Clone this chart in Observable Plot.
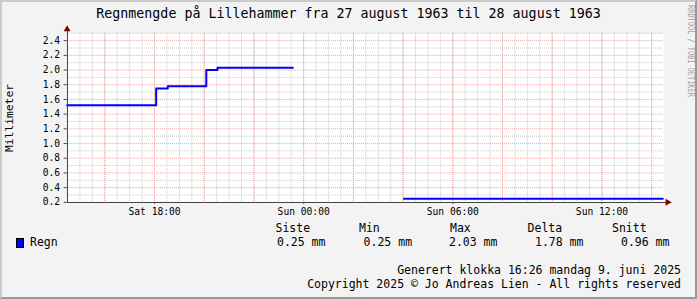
<!DOCTYPE html>
<html><head><meta charset="utf-8">
<script src="https://cdn.jsdelivr.net/npm/d3@7"></script>
<script src="https://cdn.jsdelivr.net/npm/@observablehq/plot@0.6"></script>
<style>
html,body{margin:0;padding:0;background:#f3f3f3;}
#chart{position:relative;width:697px;height:299px;box-sizing:border-box;background:#f3f3f3;font-family:"DejaVu Sans Mono",monospace;color:#000;overflow:hidden;
  border-left:2px solid #cbcbcb;border-top:2px solid #cbcbcb;border-right:2px solid #999;border-bottom:2px solid #999;}
#chart svg{position:absolute;left:-2px;top:-2px;}
.t{position:absolute;white-space:pre;line-height:1;}
</style></head><body>
<div id="chart"></div>
<script>
// ---- data ----
const title = "Regnmengde på Lillehammer fra 27 august 1963 til 28 august 1963";
const yLabel = "Millimeter";
const watermark = "RRDTOOL / TOBI OETIKER";
const seriesName = "Regn";
const seriesColor = "#0000ff";
const domainStart = "1963-08-27T14:29";
const domainEnd = "1963-08-28T14:29";
const times  = ["1963-08-27T14:29","1963-08-27T18:04","1963-08-27T18:32","1963-08-27T20:05","1963-08-27T20:32","1963-08-27T23:34","1963-08-27T23:35","1963-08-28T04:02","1963-08-28T14:27"];
const values = [1.52, 1.75, 1.78, 2.00, 2.03, 2.03, null, 0.25, 0.25];
const xTicks = ["1963-08-27T18:00","1963-08-28T00:00","1963-08-28T06:00","1963-08-28T12:00"];
const xTickLabels = ["Sat 18:00","Sun 00:00","Sun 06:00","Sun 12:00"];
const yTicks = [0.2,0.4,0.6,0.8,1.0,1.2,1.4,1.6,1.8,2.0,2.2,2.4];
const yMinorTicks = [0.3,0.5,0.7,0.9,1.1,1.3,1.5,1.7,1.9,2.1,2.3,2.5];
const statHeaders = ["Siste","Min","Max","Delta","Snitt"];
const statValues = ["0.25 mm","0.25 mm","2.03 mm","1.78 mm","0.96 mm"];
const footer1 = "Generert klokka 16:26 mandag 9. juni 2025";
const footer2 = "Copyright 2025 © Jo Andreas Lien - All rights reserved";

// ---- build ----
const parse = d3.utcParse("%Y-%m-%dT%H:%M");
const data = times.map((t, i) => ({t: parse(t), v: values[i]}));
const x0 = parse(domainStart), x1 = parse(domainEnd);
const minorX = d3.utcMinute.every(30).range(x0, x1);
const majorX = d3.utcHour.every(2).range(x0, x1);
const xTickDates = xTicks.map(parse);

const plot = Plot.plot({
  width: 697, height: 299,
  marginLeft: 67, marginRight: 30, marginTop: 33, marginBottom: 96,
  style: {background: "transparent", fontFamily: "DejaVu Sans Mono", fontSize: "9.7px", color: "#000", overflow: "visible"},
  x: {type: "utc", domain: [x0, x1]},
  y: {domain: [0.2, 2.5]},
  marks: [
    Plot.frame({fill: "#fff", stroke: null}),
    Plot.gridX(minorX, {stroke: "#c8c8c8", strokeOpacity: 1, strokeDasharray: "1,1"}),
    Plot.gridY(yMinorTicks, {stroke: "#c8c8c8", strokeOpacity: 1, strokeDasharray: "1,1"}),
    Plot.gridX(majorX, {stroke: "#f0a0a0", strokeOpacity: 1, strokeDasharray: "1,1"}),
    Plot.gridY(yTicks, {stroke: "#f0a0a0", strokeOpacity: 1, strokeDasharray: "1,1"}),
    Plot.line(data, {x: "t", y: "v", stroke: seriesColor, strokeWidth: 2, curve: "step-after"}),
    Plot.ruleX([x0], {stroke: "#444", insetTop: -3}),
    Plot.ruleY([0.2], {stroke: "#444", insetRight: -3}),
    Plot.axisY({ticks: yTicks, tickFormat: d => d.toFixed(1), tickSize: 3, tickPadding: 4, label: null, stroke: "#444"}),
    Plot.axisX({ticks: xTickDates, tickFormat: d => xTickLabels[xTickDates.findIndex(t => +t === +d)], tickSize: 2, tickPadding: 4, label: null, stroke: "#444"}),
    Plot.dot([0], {frameAnchor: "top-left", symbol: "triangle", r: 2.6, fill: "#7f0000", stroke: null, dy: -4}),
    Plot.dot([0], {frameAnchor: "bottom-right", symbol: "triangle", rotate: 90, r: 2.6, fill: "#7f0000", stroke: null, dx: 4})
  ]
});
// crisp one-pixel grid lines, as in the reference
plot.querySelectorAll('[aria-label^="grid"]').forEach(g => g.setAttribute("shape-rendering", "crispEdges"));
plot.querySelectorAll('[aria-label^="rule"]').forEach(g => g.setAttribute("shape-rendering", "crispEdges"));
const chart = document.getElementById("chart");
chart.appendChild(plot);

function addText(txt, css) {
  const d = document.createElement("div");
  d.className = "t";
  d.textContent = txt;
  Object.assign(d.style, css);
  chart.appendChild(d);
  return d;
}
// coordinates relative to the border box (container has 2px border)
const o = -2;
addText(title, {left: (0 + o) + "px", width: "697px", textAlign: "center", top: (6.5 + o) + "px", fontSize: "13.3px"});
addText(yLabel, {left: (10 + o) + "px", top: (118 + o) + "px", fontSize: "11.3px", transform: "translate(-50%,-50%) rotate(-90deg)"});
addText(watermark, {left: (689.5 + o) + "px", top: (51 + o) + "px", fontSize: "9px", color: "#a0a0a0", transform: "translate(-50%,-50%) rotate(90deg) scaleX(0.77)"});
// legend
const sw = document.createElement("div");
Object.assign(sw.style, {position: "absolute", left: (15.5 + o) + "px", top: (238 + o) + "px", width: "8px", height: "10px", boxSizing: "border-box", background: seriesColor, border: "1px solid #000"});
chart.appendChild(sw);
addText(seriesName, {left: (30 + o) + "px", top: (237.3 + o) + "px", fontSize: "11.5px"});
const headX = [275.5, 359, 450, 527.6, 612];
const valX = [277, 363.6, 449, 535, 621];
statHeaders.forEach((h, i) => addText(h, {left: (headX[i] + o) + "px", top: (223.3 + o) + "px", fontSize: "11.5px"}));
statValues.forEach((v, i) => addText(v, {left: (valX[i] + o) + "px", top: (237.3 + o) + "px", fontSize: "11.5px"}));
addText(footer1, {right: (16 - 2) + "px", top: (265.3 + o) + "px", fontSize: "11.5px"});
addText(footer2, {right: (16 - 2) + "px", top: (279.3 + o) + "px", fontSize: "11.5px"});
</script>
</body></html>
